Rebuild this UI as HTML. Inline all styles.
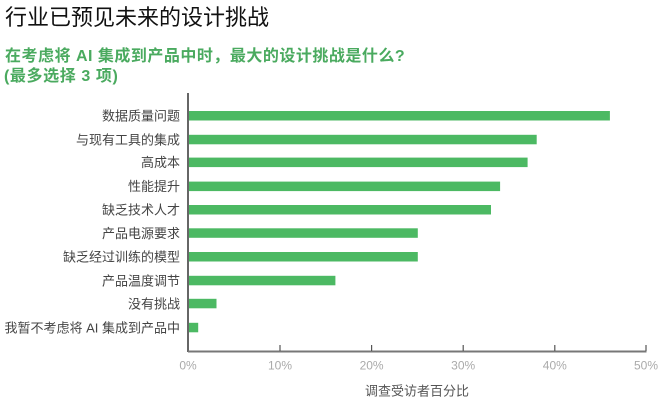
<!DOCTYPE html>
<html><head><meta charset="utf-8"><style>
html,body{margin:0;padding:0;background:#fff;}
svg{display:block;}
.cjk{font-family:"Liberation Sans","Noto Sans CJK SC",sans-serif;}
</style></head><body>
<svg width="660" height="402" viewBox="0 0 660 402" xmlns="http://www.w3.org/2000/svg">
<text x="5" y="25" class="cjk" font-size="22" fill="#111">行业已预见未来的设计挑战</text>
<text x="5" y="61" class="cjk" font-size="16" font-weight="bold" fill="#4aaa5f" letter-spacing="0.5">在考虑将 AI 集成到产品中时，最大的设计挑战是什么?</text>
<text x="4" y="81" class="cjk" font-size="16" font-weight="bold" fill="#4aaa5f" letter-spacing="0.6">(最多选择 3 项)</text>
<g fill="#4cb963">
<rect x="189" y="111" width="420.9" height="9.5"/>
<rect x="189" y="134.8" width="347.7" height="9.5"/>
<rect x="189" y="157.6" width="338.6" height="9.5"/>
<rect x="189" y="181.6" width="311.1" height="9.5"/>
<rect x="189" y="205" width="302" height="9.5"/>
<rect x="189" y="228.3" width="228.8" height="9.5"/>
<rect x="189" y="252" width="228.8" height="9.5"/>
<rect x="189" y="275.8" width="146.4" height="9.5"/>
<rect x="189" y="298.8" width="27.5" height="9.5"/>
<rect x="189" y="322.8" width="9.2" height="9.5"/>
</g>
<g class="cjk" font-size="13" fill="#444" text-anchor="end">
<text x="180" y="120.5">数据质量问题</text>
<text x="180" y="144.3">与现有工具的集成</text>
<text x="180" y="167.1">高成本</text>
<text x="180" y="191.1">性能提升</text>
<text x="180" y="214.5">缺乏技术人才</text>
<text x="180" y="237.8">产品电源要求</text>
<text x="180" y="261.5">缺乏经过训练的模型</text>
<text x="180" y="285.3">产品温度调节</text>
<text x="180" y="308.3">没有挑战</text>
<text x="180" y="332.3">我暂不考虑将 AI 集成到产品中</text>
</g>
<line x1="188" y1="93" x2="188" y2="352" stroke="#333" stroke-width="1.5"/>
<line x1="188" y1="351.5" x2="646.5" y2="351.5" stroke="#777" stroke-width="2"/>
<g stroke="#555" stroke-width="1.2">
<line x1="280" y1="345" x2="280" y2="351"/>
<line x1="371.6" y1="345" x2="371.6" y2="351"/>
<line x1="463.2" y1="345" x2="463.2" y2="351"/>
<line x1="554.8" y1="345" x2="554.8" y2="351"/>
<line x1="646" y1="345" x2="646" y2="351"/>
</g>
<g font-family="'Liberation Sans Narrow','Liberation Sans',sans-serif" font-size="12" fill="#aaa" text-anchor="middle">
<text x="188" y="369.5">0%</text>
<text x="280" y="369.5">10%</text>
<text x="371.6" y="369.5">20%</text>
<text x="463.2" y="369.5">30%</text>
<text x="554.8" y="369.5">40%</text>
<text x="646" y="369.5">50%</text>
</g>
<text x="417" y="395.5" class="cjk" font-size="13" fill="#555" text-anchor="middle">调查受访者百分比</text>
</svg>
</body></html>
